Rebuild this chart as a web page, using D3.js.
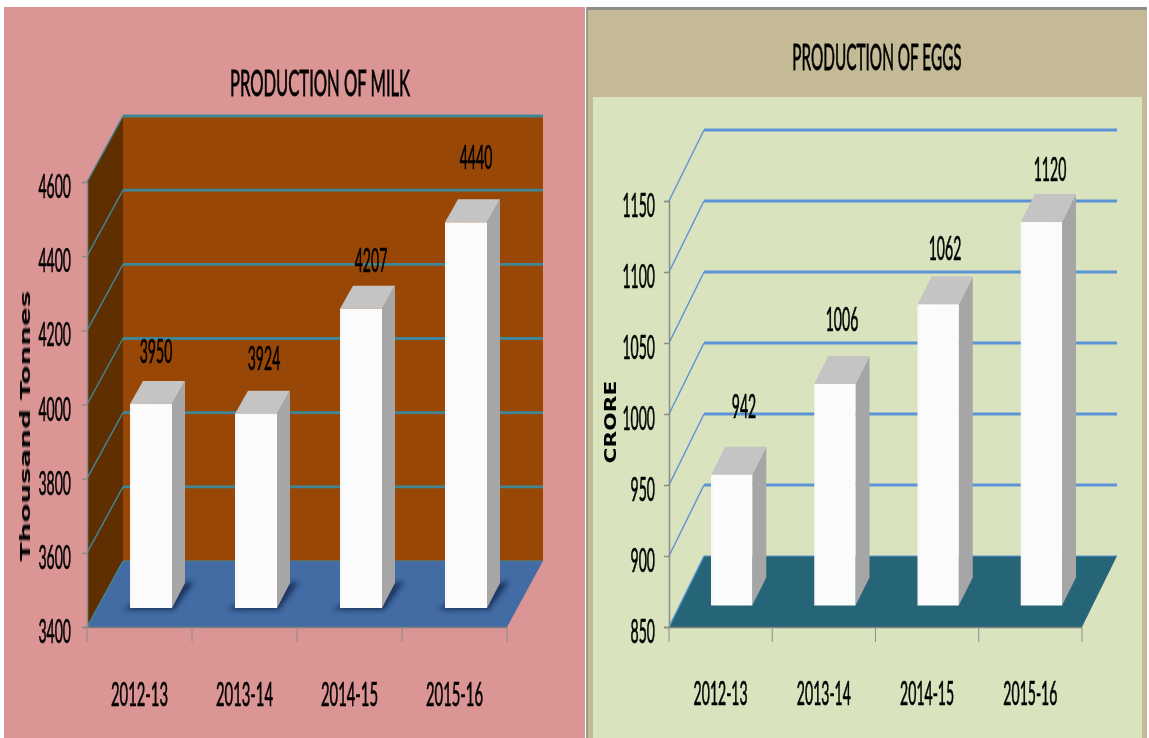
<!DOCTYPE html>
<html><head><meta charset="utf-8">
<script src="https://cdn.jsdelivr.net/npm/d3@7"></script>
<style>html,body{margin:0;padding:0;background:#fff}svg{display:block}</style>
</head><body><svg id="c" width="1149" height="738"></svg>
<script>
const categories = ["2012-13","2013-14","2014-15","2015-16"];
const milkValues = [3950,3924,4207,4440];
const milkTicks = [3400,3600,3800,4000,4200,4400,4600];
const eggValues = [942,1006,1062,1120];
const eggTicks = [850,900,950,1000,1050,1100,1150];
const milkLabelGap = [54,57,50,66];
const eggLabelGap = [70,66,57,54];

const svg = d3.select("#c");
const defs = svg.append("defs");
defs.append("filter").attr("id","soft").append("feGaussianBlur").attr("stdDeviation",0.4);
defs.append("filter").attr("id","shadow").attr("x","-30%").attr("y","-30%").attr("width","160%").attr("height","160%").append("feGaussianBlur").attr("stdDeviation",2.5);
const grad = defs.append("linearGradient").attr("id","frontGrad");
grad.append("stop").attr("offset","0").attr("stop-color","#f6f6f6");
grad.append("stop").attr("offset","0.1").attr("stop-color","#fcfcfc");
grad.append("stop").attr("offset","1").attr("stop-color","#fbfbfb");

function label(g,txt,cx,cy,size,sx,sy,opts){
  opts = opts||{};
  return g.append("text").text(txt)
    .attr("transform",`translate(${cx},${cy}) rotate(${opts.rot||0}) scale(${sx},${sy})`)
    .attr("text-anchor",opts.anchor||"middle").attr("dominant-baseline","central")
    .attr("font-family",opts.font||"Lato, sans-serif").attr("font-size",size)
    .attr("font-weight",opts.weight||400).attr("fill","#000")
    .attr("stroke",opts.stroke?"#000":"none").attr("stroke-width",opts.stroke||0)
    .attr("filter","url(#soft)");
}
const pts = a => a.map(p=>p.join(",")).join(" ");

// panels
svg.append("rect").attr("x",4).attr("y",7).attr("width",581).attr("height",731).attr("fill","#DB9594");
svg.append("rect").attr("x",586).attr("y",7).attr("width",561).attr("height",731).attr("fill","#C4BB96");
svg.append("rect").attr("x",586).attr("y",7).attr("width",561).attr("height",3).attr("fill","#8f8f8a");
svg.append("rect").attr("x",586).attr("y",7).attr("width",2).attr("height",731).attr("fill","#9a9a90");
svg.append("rect").attr("x",593).attr("y",97).attr("width",549).attr("height",641).attr("fill","#D9E3BE");

function chart(cfg){
  const g = svg.append("g");
  const y = d3.scaleLinear().domain(d3.extent(cfg.ticks)).range([cfg.y0,cfg.y1]);
  const xAxis = d3.scaleBand().domain(categories).range([cfg.x0,cfg.x1]);
  const xBar = d3.scaleBand().domain(categories).range([cfg.x0,cfg.x1]).paddingInner(0.6).paddingOuter(0.3);
  const [dx,dy] = cfg.depth;
  const yMin = cfg.ticks[0], yMax = cfg.ticks[cfg.ticks.length-1];

  if(cfg.backWall){
    g.append("rect").attr("x",cfg.x0+dx).attr("y",y(yMax)+dy).attr("width",cfg.x1-cfg.x0)
      .attr("height",y(yMin)-y(yMax)).attr("fill",cfg.backWall);
    g.append("polygon").attr("points",pts([[cfg.x0,y(yMin)],[cfg.x0,y(yMax)],[cfg.x0+dx,y(yMax)+dy],[cfg.x0+dx,y(yMin)+dy]])).attr("fill",cfg.sideWall);
  }
  // floor
  g.append("polygon").attr("points",pts([[cfg.x0,y(yMin)],[cfg.x1,y(yMin)],[cfg.x1+dx,y(yMin)+dy],[cfg.x0+dx,y(yMin)+dy]])).attr("fill",cfg.floor);
  g.append("line").attr("x1",cfg.x0).attr("x2",cfg.x1).attr("y1",y(yMin)+0.5).attr("y2",y(yMin)+0.5).attr("stroke","#7f7f80").attr("stroke-width",1.5);

  // gridlines
  cfg.ticks.forEach(t=>{
    const first = t===yMin;
    g.append("polyline").attr("points",pts([[cfg.x0,y(t)],[cfg.x0+dx,y(t)+dy]])).attr("fill","none").attr("stroke",cfg.grid).attr("stroke-width",1.4);
    g.append("line").attr("x1",cfg.x0+dx).attr("x2",cfg.x1+dx).attr("y1",y(t)+dy).attr("y2",y(t)+dy)
      .attr("stroke",cfg.grid).attr("stroke-width",first?1:2.8);
  });

  // axes
  const axisY = d3.axisLeft(y).tickValues(cfg.ticks).tickSize(5).tickFormat("");
  const ay = g.append("g").attr("transform",`translate(${cfg.x0},0)`).call(axisY);
  ay.selectAll("path,line").attr("stroke","#8c8c8c").attr("stroke-width",1.5);
  const axisX = d3.axisBottom(xAxis).tickValues([]).tickSizeOuter(0);
  const ax = g.append("g").attr("transform",`translate(0,${cfg.y0})`).call(axisX);
  ax.select("path").attr("stroke","none");
  const tickXs = categories.map(c=>xAxis(c)).concat([cfg.x1]);
  ax.selectAll("line.tk").data(tickXs).join("line").attr("class","tk")
    .attr("x1",d=>d).attr("x2",d=>d).attr("y1",0).attr("y2",15).attr("stroke","#8c8c8c").attr("stroke-width",1);

  // bars
  const [bdx,bdy,capDy] = cfg.barDepth;
  const w = xBar.bandwidth();
  const bars = g.selectAll("g.bar").data(cfg.values).join("g").attr("class","bar");
  bars.each(function(v,i){
    const b = d3.select(this);
    const xl = xBar(categories[i])+cfg.barShift[0], xr = xl+w;
    const top = y(v)+cfg.barShift[1], bot = cfg.y0+cfg.barShift[1];
    if(cfg.shadow){
      b.append("polygon").attr("points",pts([[xl-7,bot+2],[xr+2,bot+2],[xr+bdx+9,bot+bdy-1],[xr+bdx+2,bot+bdy-1],[xl,bot-3]]))
       .attr("fill",cfg.shadow).attr("filter","url(#shadow)");
    }
    b.append("polygon").attr("points",pts([[xr,bot],[xr+bdx,bot+bdy],[xr+bdx,top+capDy],[xr,top]])).attr("fill","#A6A6A6");
    b.append("polygon").attr("points",pts([[xl,top],[xr,top],[xr+bdx,top+capDy],[xl+bdx,top+capDy]])).attr("fill","#C4C4C4");
    b.append("rect").attr("x",xl).attr("y",top).attr("width",w).attr("height",bot-top).attr("fill","url(#frontGrad)");
    label(g,String(v),cfg.valueX(i),top-cfg.gaps[i],cfg.fs,cfg.sx,cfg.sy,{stroke:0.6});
  });

  // tick labels
  cfg.ticks.forEach(t=>label(g,String(t),cfg.x0-cfg.tickPad,y(t)+3,cfg.fs,cfg.sx,cfg.sy,{anchor:"end",stroke:0.6}));
  categories.forEach(c=>label(g,c,xAxis(c)+xAxis.bandwidth()/2,cfg.catY,cfg.fs,cfg.catSx,cfg.sy,{stroke:0.6}));
  // titles
  label(g,cfg.title,cfg.titlePos[0],cfg.titlePos[1],31,cfg.titleSx,1.2,{stroke:0.7});
  label(g,cfg.yTitle,cfg.yTitlePos[0],cfg.yTitlePos[1],cfg.yTitleSize,cfg.yTitleSx,1,{rot:-90,font:"'DejaVu Sans', sans-serif",weight:cfg.yTitleWeight});
}

chart({values:milkValues,ticks:milkTicks,x0:87,x1:507,y0:627,y1:182,depth:[36,-66],barDepth:[13,-25,-23],barShift:[11.5,-19],
  backWall:"#994706",sideWall:"#5F2F02",floor:"#426CA3",grid:"#3F8796",shadow:"#1d3560",
  gaps:milkLabelGap,valueX:i=>[156,264,371,476][i],fs:27,sx:0.52,sy:1.22,catSx:0.55,catY:693,tickPad:16,
  title:"PRODUCTION OF MILK",titlePos:[320,82],titleSx:0.535,
  yTitle:"Thousand Tonnes",yTitlePos:[25,426],yTitleSize:13.5,yTitleSx:2.05,yTitleWeight:700});

chart({values:eggValues,ticks:eggTicks,x0:669,x1:1082,y0:627,y1:201,depth:[35,-71],barDepth:[14,-28,-28],barShift:[11,-21.5],
  backWall:null,floor:"#266478",grid:"#5B93D6",shadow:null,
  gaps:eggLabelGap,valueX:i=>[744,842,945,1050][i],fs:27,sx:0.52,sy:1.22,catSx:0.52,catY:692,tickPad:14,
  title:"PRODUCTION OF EGGS",titlePos:[877,56],titleSx:0.495,
  yTitle:"CRORE",yTitlePos:[611,422],yTitleSize:15,yTitleSx:1.45,yTitleWeight:700});
</script></body></html>
